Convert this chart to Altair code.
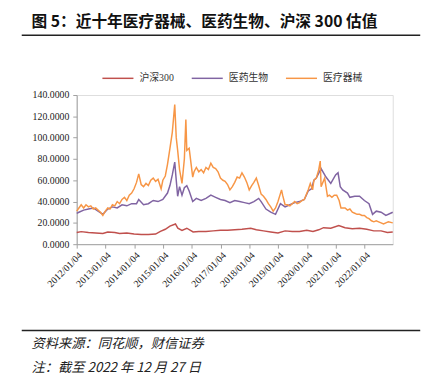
import altair as alt
import pandas as pd

TITLE = "图 5：近十年医疗器械、医药生物、沪深 300 估值"
SOURCE = "资料来源：同花顺，财信证券"
NOTE = "注：截至 2022 年 12 月 27 日"

series_names = ["沪深300", "医药生物", "医疗器械"]
series_colors = ["#C0504D", "#8064A2", "#F79646"]

hs_dates = ["2012/01/04", "2012/03/01", "2012/06/01", "2012/09/01", "2012/12/01", "2013/02/01",
            "2013/05/01", "2013/07/01", "2013/10/01", "2014/01/01", "2014/04/01", "2014/07/01",
            "2014/10/01", "2014/12/01", "2015/02/01", "2015/04/01", "2015/06/10", "2015/07/10",
            "2015/09/01", "2015/11/01", "2016/01/20", "2016/04/01", "2016/07/01", "2016/10/01",
            "2017/01/01", "2017/04/01", "2017/07/01", "2017/10/01", "2018/01/20", "2018/04/01",
            "2018/07/01", "2018/10/01", "2019/01/01", "2019/04/01", "2019/07/01", "2019/10/01",
            "2020/01/01", "2020/03/20", "2020/06/01", "2020/08/01", "2020/11/01", "2021/02/10",
            "2021/05/01", "2021/08/01", "2021/11/01", "2022/02/01", "2022/05/01", "2022/08/01",
            "2022/10/20", "2022/12/27"]
hs_vals = [11, 11.8, 11, 10.5, 10, 11.5, 11, 10, 10.5, 9.5, 9, 9, 9.5, 12, 14, 17, 19, 15,
           13, 15, 11.5, 12, 12, 12.5, 13, 13, 13.5, 14, 15, 13.5, 12.5, 11.5, 10.5, 12.5, 12, 12,
           13, 12, 13.5, 15.5, 15, 17.5, 15.5, 14.5, 15, 14, 12.5, 12.5, 11, 11.5]

yy_dates = ["2012/01/04", "2012/02/01", "2012/04/01", "2012/06/01", "2012/08/01", "2012/10/01",
            "2012/12/01", "2013/02/01", "2013/04/01", "2013/06/01", "2013/08/01", "2013/10/01",
            "2013/12/01", "2014/02/01", "2014/03/01", "2014/05/01", "2014/07/01", "2014/09/01",
            "2014/11/01", "2015/01/01", "2015/03/01", "2015/04/01", "2015/05/01", "2015/06/01",
            "2015/06/20", "2015/07/08", "2015/08/01", "2015/09/01", "2015/10/01", "2015/11/01",
            "2015/12/01", "2016/01/15", "2016/03/01", "2016/05/01", "2016/07/01", "2016/09/01",
            "2016/11/01", "2017/01/01", "2017/03/01", "2017/05/01", "2017/07/01", "2017/09/01",
            "2017/11/01", "2018/01/01", "2018/03/01", "2018/05/01", "2018/06/01", "2018/08/01",
            "2018/10/01", "2018/12/01", "2019/02/01", "2019/04/01", "2019/06/01", "2019/08/01",
            "2019/10/01", "2019/12/01", "2020/01/20", "2020/03/01", "2020/04/01", "2020/05/01",
            "2020/07/01", "2020/08/01", "2020/09/01", "2020/11/01", "2021/01/01", "2021/02/01",
            "2021/03/01", "2021/04/01", "2021/06/01", "2021/07/01", "2021/09/01", "2021/11/01",
            "2022/01/01", "2022/03/01", "2022/04/15", "2022/06/01", "2022/08/01", "2022/10/01",
            "2022/12/27"]
yy_vals = [29, 30, 32, 33, 34, 31, 28, 33, 35, 34, 37, 36, 38, 38, 42, 37, 38, 41, 40, 42,
           48, 55, 65, 77, 60, 45, 54, 46, 53, 55, 50, 40, 43, 41, 43, 46, 44, 42, 41, 39,
           41, 40, 39, 38, 40, 43, 40, 33, 30, 28, 38, 35, 37, 39, 40, 42, 50, 52, 60, 62,
           71, 67, 63, 57, 65, 67, 54, 51, 48, 44, 45, 45, 41, 38, 28, 31, 30, 27, 30]

yl_dates = ["2012/01/04", "2012/02/01", "2012/03/01", "2012/04/01", "2012/05/01", "2012/06/01",
            "2012/07/01", "2012/08/01", "2012/09/01", "2012/10/01", "2012/11/01", "2012/12/01",
            "2013/01/01", "2013/02/01", "2013/03/01", "2013/04/01", "2013/05/01", "2013/06/01",
            "2013/07/01", "2013/08/01", "2013/09/01", "2013/10/01", "2013/11/01", "2013/12/01",
            "2014/01/01", "2014/02/01", "2014/03/01", "2014/04/01", "2014/05/01", "2014/06/01",
            "2014/07/01", "2014/08/01", "2014/09/01", "2014/10/01", "2014/11/01", "2014/12/10",
            "2015/01/01", "2015/02/01", "2015/03/01", "2015/04/01", "2015/05/01", "2015/06/01",
            "2015/06/20", "2015/07/08", "2015/08/01", "2015/09/01", "2015/10/01", "2015/10/20",
            "2015/11/01", "2015/12/01", "2016/01/15", "2016/02/01", "2016/03/01", "2016/04/01",
            "2016/05/01", "2016/06/01", "2016/07/01", "2016/08/01", "2016/09/01", "2016/10/01",
            "2016/11/01", "2016/12/01", "2017/01/01", "2017/02/01", "2017/03/01", "2017/04/01",
            "2017/05/01", "2017/06/01", "2017/07/01", "2017/08/01", "2017/09/01", "2017/10/01",
            "2017/11/01", "2017/12/01", "2018/01/01", "2018/02/01", "2018/03/01", "2018/04/01",
            "2018/05/01", "2018/06/01", "2018/07/01", "2018/08/01", "2018/09/01", "2018/10/01",
            "2018/11/01", "2018/12/01", "2019/01/01", "2019/02/15", "2019/03/01", "2019/04/01",
            "2019/05/01", "2019/06/01", "2019/07/01", "2019/08/01", "2019/09/01", "2019/10/01",
            "2019/11/01", "2019/12/01", "2020/01/20", "2020/02/15", "2020/03/15", "2020/04/01",
            "2020/05/01", "2020/06/01", "2020/06/20", "2020/07/01", "2020/08/15", "2020/09/20",
            "2020/10/15", "2020/11/15", "2020/12/15", "2021/01/15", "2021/02/15", "2021/03/10",
            "2021/04/01", "2021/05/01", "2021/06/01", "2021/07/01", "2021/08/01", "2021/09/01",
            "2021/10/01", "2021/11/01", "2021/12/01", "2022/01/01", "2022/02/01", "2022/03/01",
            "2022/04/01", "2022/05/01", "2022/06/01", "2022/07/01", "2022/08/01", "2022/09/01",
            "2022/10/01", "2022/11/01", "2022/12/27"]
yl_vals = [31, 34, 37, 34, 37, 35, 36, 33, 34, 32, 30, 27,
           31, 34, 33, 37, 36, 40, 38, 42, 44, 41, 46, 48,
           52, 58, 66, 56, 54, 57, 55, 60, 62, 59, 61, 52,
           60, 64, 75, 90, 105, 131, 100, 88, 70, 57, 80, 117,
           88, 90, 63, 68, 72, 68, 70, 67, 72, 70, 76, 72,
           71, 68, 62, 60, 59, 56, 51, 54, 58, 63, 62, 67,
           63, 58, 51, 55, 58, 62, 55, 47, 45, 42, 38, 35,
           31, 34, 40, 51, 46, 37, 37, 36, 38, 40, 38, 39,
           41, 42, 51, 57, 51, 60, 62, 70, 78, 54, 62, 45,
           46, 44, 46, 46, 41, 34, 34, 34, 32, 33, 30, 29,
           28, 28, 27, 27, 25, 24, 22, 21, 22, 21, 20, 19,
           20, 21, 20]

rows = []
for name, ds, vs in zip(series_names, [hs_dates, yy_dates, yl_dates], [hs_vals, yy_vals, yl_vals]):
    for d, v in zip(ds, vs):
        rows.append({"date": d, "value": v, "series": name})
df = pd.DataFrame(rows)

LATIN = "Times New Roman, Liberation Serif, serif"
LEG = "Times New Roman, Liberation Serif, Noto Sans CJK SC"
CJK = "Noto Sans CJK SC"

lines = alt.Chart(df).mark_line(strokeWidth=1.5).encode(
    x=alt.X("date:T",
            scale=alt.Scale(domain=[alt.DateTime(year=2012, month=1, date=4),
                                    alt.DateTime(year=2022, month=12, date=27)]),
            axis=alt.Axis(values=[alt.DateTime(year=y, month=1, date=4) for y in range(2012, 2023)],
                          format="%Y/%m/%d", labelAngle=-45, labelOverlap=False, title=None,
                          grid=False, labelFont=LATIN, labelFontSize=10, labelColor="#222",
                          domainColor="#A0A0A0", tickColor="#A0A0A0", tickSize=4,
                          labelPadding=2)),
    y=alt.Y("value:Q", scale=alt.Scale(domain=[0, 140]),
            axis=alt.Axis(values=[0, 20, 40, 60, 80, 100, 120, 140], format=".4f", title=None,
                          grid=False, labelFont=LATIN, labelFontSize=10, labelColor="#222",
                          domainColor="#A0A0A0", tickColor="#A0A0A0", tickSize=4,
                          labelPadding=4)),
    color=alt.Color("series:N", sort=series_names,
                    scale=alt.Scale(domain=series_names, range=series_colors),
                    legend=alt.Legend(orient="none", legendX=25, legendY=-34, direction="horizontal",
                                      title=None, symbolType="stroke", symbolSize=1000,
                                      symbolStrokeWidth=1.5, labelFont=LEG, labelFontSize=10,
                                      labelColor="#333", columnPadding=15, labelOffset=5)),
    detail="series:N",
)

title = alt.Chart(pd.DataFrame({"t": [TITLE]})).mark_text(
    align="left", baseline="middle", font=CJK, fontSize=16, fontWeight="bold", color="#111"
).encode(text="t:N", x=alt.value(-46), y=alt.value(-74))

src = alt.Chart(pd.DataFrame({"t": [SOURCE]})).mark_text(
    align="left", baseline="middle", font=CJK, fontSize=13.5, fontStyle="italic", color="#222"
).encode(text="t:N", x=alt.value(-46), y=alt.value(254))

note = alt.Chart(pd.DataFrame({"t": [NOTE]})).mark_text(
    align="left", baseline="middle", font=CJK, fontSize=13.5, fontStyle="italic", color="#222"
).encode(text="t:N", x=alt.value(-46), y=alt.value(278))

rule_top = alt.Chart(pd.DataFrame({"a": [0]})).mark_rule(color="#222", strokeWidth=1.5).encode(
    x=alt.value(-56), x2=alt.value(350), y=alt.value(-61))
rule_bot = alt.Chart(pd.DataFrame({"a": [0]})).mark_rule(color="#222", strokeWidth=1.5).encode(
    x=alt.value(-56), x2=alt.value(350), y=alt.value(240))

chart = alt.layer(lines, title, src, note, rule_top, rule_bot).properties(
    width=322, height=152,
    autosize=alt.AutoSizeParams(type="none"),
    padding={"left": 70, "top": 85, "right": 40, "bottom": 150},
).configure_view(stroke=None).configure(background="white")

chart.save("out.html", embed_options={"renderer": "svg", "actions": False})
